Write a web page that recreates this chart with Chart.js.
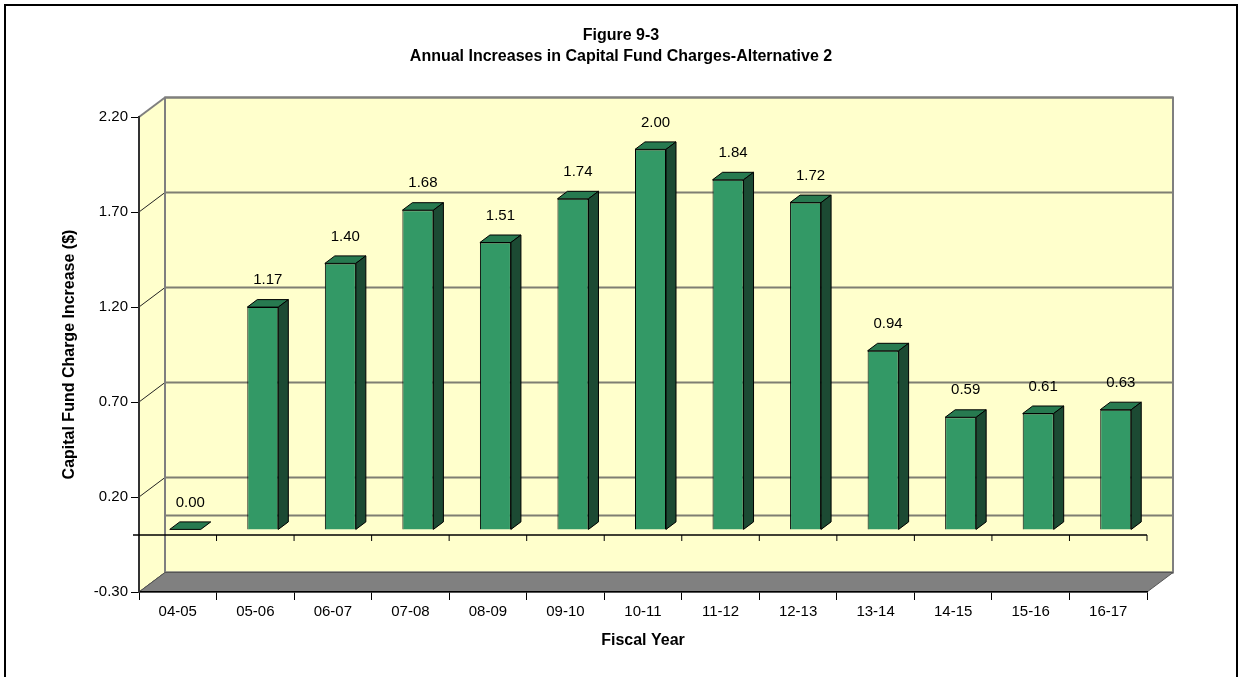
<!DOCTYPE html>
<html>
<head>
<meta charset="utf-8">
<script src="https://cdn.jsdelivr.net/npm/chart.js@4.4.1/dist/chart.umd.min.js"></script>
<style>
  html, body { margin: 0; padding: 0; background: #fff; }
  canvas { display: block; }
</style>
</head>
<body>
<canvas id="c" width="1238" height="677"></canvas>
<script>
// ---- data ----
const categories = ['04-05','05-06','06-07','07-08','08-09','09-10','10-11','11-12','12-13','13-14','14-15','15-16','16-17'];
const increases = [0.00, 1.17, 1.40, 1.68, 1.51, 1.74, 2.00, 1.84, 1.72, 0.94, 0.59, 0.61, 0.63];
const yTickValues = [-0.30, 0.20, 0.70, 1.20, 1.70, 2.20];
const titleLines = ['Figure 9-3', 'Annual Increases in Capital Fund Charges-Alternative 2'];

// ---- 3D look constants ----
const WALL_DX = 26, WALL_DY = -19.5;   // depth of the back wall
const BAR_DX = 7.5, BAR_DY = -5.6;     // bar front plane offset
const BAR_DEPTH_X = 10, BAR_DEPTH_Y = -7.5;
const FONT = '"Liberation Sans", Arial, sans-serif';

Chart.defaults.font.family = FONT;
Chart.defaults.font.size = 15;
Chart.defaults.color = '#000';

const threeD = {
  id: 'threeD',
  beforeDraw(chart) {
    const ctx = chart.ctx;
    const ca = chart.chartArea;
    const y = chart.scales.y;
    ctx.save();
    ctx.fillStyle = '#fff';
    ctx.fillRect(0, 0, chart.width, chart.height);
    // outer frame
    ctx.strokeStyle = '#000';
    ctx.lineWidth = 2;
    ctx.strokeRect(5, 5, 1232, 700);
    // titles
    ctx.fillStyle = '#000';
    ctx.font = 'bold 16px ' + FONT;
    ctx.textAlign = 'center';
    ctx.textBaseline = 'middle';
    ctx.fillText(titleLines[0], 621, 36);
    ctx.fillText(titleLines[1], 621, 57);

    const L = ca.left, R = ca.right, T = ca.top, B = ca.bottom;
    // back wall
    ctx.fillStyle = '#FFFFCC';
    ctx.fillRect(L + WALL_DX, T + WALL_DY, R - L, B - T);
    // side wall
    ctx.beginPath();
    ctx.moveTo(L, T); ctx.lineTo(L + WALL_DX, T + WALL_DY);
    ctx.lineTo(L + WALL_DX, B + WALL_DY); ctx.lineTo(L, B);
    ctx.closePath(); ctx.fill();
    // back wall gridlines (incl. zero plane)
    const gridVals = yTickValues.concat([0]);
    gridVals.forEach(v => {
      const py = y.getPixelForValue(v);
      ctx.strokeStyle = '#7f7f72';
      ctx.lineWidth = 2;
      ctx.beginPath();
      ctx.moveTo(L + WALL_DX, py + WALL_DY);
      ctx.lineTo(R + WALL_DX, py + WALL_DY);
      ctx.stroke();
    });
    // side wall diagonals
    yTickValues.forEach((v, i) => {
      const py = y.getPixelForValue(v);
      ctx.strokeStyle = i === yTickValues.length - 1 ? '#7f7f7f' : '#222';
      ctx.lineWidth = i === yTickValues.length - 1 ? 2 : 1;
      ctx.beginPath();
      ctx.moveTo(L, py);
      ctx.lineTo(L + WALL_DX, py + WALL_DY);
      ctx.stroke();
    });
    // back wall border
    ctx.strokeStyle = '#7f7f7f';
    ctx.lineWidth = 2;
    ctx.strokeRect(L + WALL_DX, T + WALL_DY, R - L, B - T);
    // floor
    ctx.fillStyle = '#808080';
    ctx.strokeStyle = '#555';
    ctx.lineWidth = 1;
    ctx.beginPath();
    ctx.moveTo(L, B); ctx.lineTo(R, B);
    ctx.lineTo(R + WALL_DX, B + WALL_DY); ctx.lineTo(L + WALL_DX, B + WALL_DY);
    ctx.closePath(); ctx.fill(); ctx.stroke();
    ctx.restore();
  },
  beforeDatasetsDraw(chart) {
    chart.ctx.save();
    chart.ctx.translate(BAR_DX, BAR_DY);
  },
  afterDatasetsDraw(chart) {
    const ctx = chart.ctx;
    ctx.restore();
    ctx.save();
    const meta = chart.getDatasetMeta(0);
    const x = chart.scales.x, y = chart.scales.y;
    ctx.lineWidth = 1;
    ctx.strokeStyle = '#000';
    meta.data.forEach((bar, i) => {
      const p = bar.getProps(['x', 'y', 'base', 'width'], true);
      const l = p.x - p.width / 2 + BAR_DX, r = p.x + p.width / 2 + BAR_DX;
      const t = p.y + BAR_DY, b = p.base + BAR_DY;
      // top face
      ctx.fillStyle = '#277a50';
      ctx.beginPath();
      ctx.moveTo(l, t); ctx.lineTo(l + BAR_DEPTH_X, t + BAR_DEPTH_Y);
      ctx.lineTo(r + BAR_DEPTH_X, t + BAR_DEPTH_Y); ctx.lineTo(r, t);
      ctx.closePath(); ctx.fill(); ctx.stroke();
      // side face
      if (b - t > 0.5) {
        ctx.fillStyle = '#1c4a33';
        ctx.beginPath();
        ctx.moveTo(r, t); ctx.lineTo(r + BAR_DEPTH_X, t + BAR_DEPTH_Y);
        ctx.lineTo(r + BAR_DEPTH_X, b + BAR_DEPTH_Y); ctx.lineTo(r, b);
        ctx.closePath(); ctx.fill(); ctx.stroke();
      }
      // value label
      ctx.fillStyle = '#000';
      ctx.font = '15px ' + FONT;
      ctx.textAlign = 'center';
      ctx.textBaseline = 'middle';
      ctx.fillText(increases[i].toFixed(2), p.x + BAR_DX + 5, t - 27);
    });
    // front zero axis line with category ticks
    const zy = y.getPixelForValue(0);
    ctx.strokeStyle = '#000';
    ctx.lineWidth = 1.5;
    ctx.beginPath();
    ctx.moveTo(chart.chartArea.left - 6, zy);
    ctx.lineTo(chart.chartArea.right, zy);
    ctx.stroke();
    ctx.lineWidth = 1;
    for (let i = 1; i <= categories.length; i++) {
      const px = x.getPixelForValue(i - 0.5);
      ctx.beginPath();
      ctx.moveTo(px, zy);
      ctx.lineTo(px, zy + 6);
      ctx.stroke();
    }
    ctx.restore();
  }
};

new Chart(document.getElementById('c'), {
  type: 'bar',
  data: {
    labels: categories,
    datasets: [{
      data: increases,
      backgroundColor: '#339966',
      borderColor: '#000',
      borderWidth: 1,
      barPercentage: 0.4,
      categoryPercentage: 1.0,
      clip: false
    }]
  },
  options: {
    responsive: false,
    animation: false,
    devicePixelRatio: 1,
    layout: { padding: { left: 0, top: 117, right: 91, bottom: 0 } },
    plugins: {
      legend: { display: false },
      title: { display: false },
      tooltip: { enabled: false }
    },
    scales: {
      x: {
        afterFit(s) { s.height = 85; },
        grid: { drawOnChartArea: false, drawTicks: true, tickLength: 8, color: '#000', offset: true },
        border: { display: true, color: '#000', width: 1.5 },
        ticks: { padding: 3, font: { size: 15 }, color: '#000' },
        title: {
          display: true, text: 'Fiscal Year',
          font: { size: 16, weight: 'bold' }, color: '#000',
          padding: { top: 0, bottom: 27 }
        }
      },
      y: {
        min: -0.3, max: 2.2,
        afterFit(s) { s.width = 139; },
        afterBuildTicks(s) { s.ticks = yTickValues.map(v => ({ value: v })); },
        grid: { drawOnChartArea: false, drawTicks: true, tickLength: 8, color: '#000' },
        border: { display: true, color: '#333', width: 2 },
        ticks: {
          padding: 3, font: { size: 15 }, color: '#000',
          callback: v => Number(v).toFixed(2)
        },
        title: {
          display: true, text: 'Capital Fund Charge Increase ($)',
          font: { size: 16, weight: 'bold' }, color: '#000',
          padding: { top: 60, bottom: 0 }
        }
      }
    }
  },
  plugins: [threeD]
});
</script>
</body>
</html>
